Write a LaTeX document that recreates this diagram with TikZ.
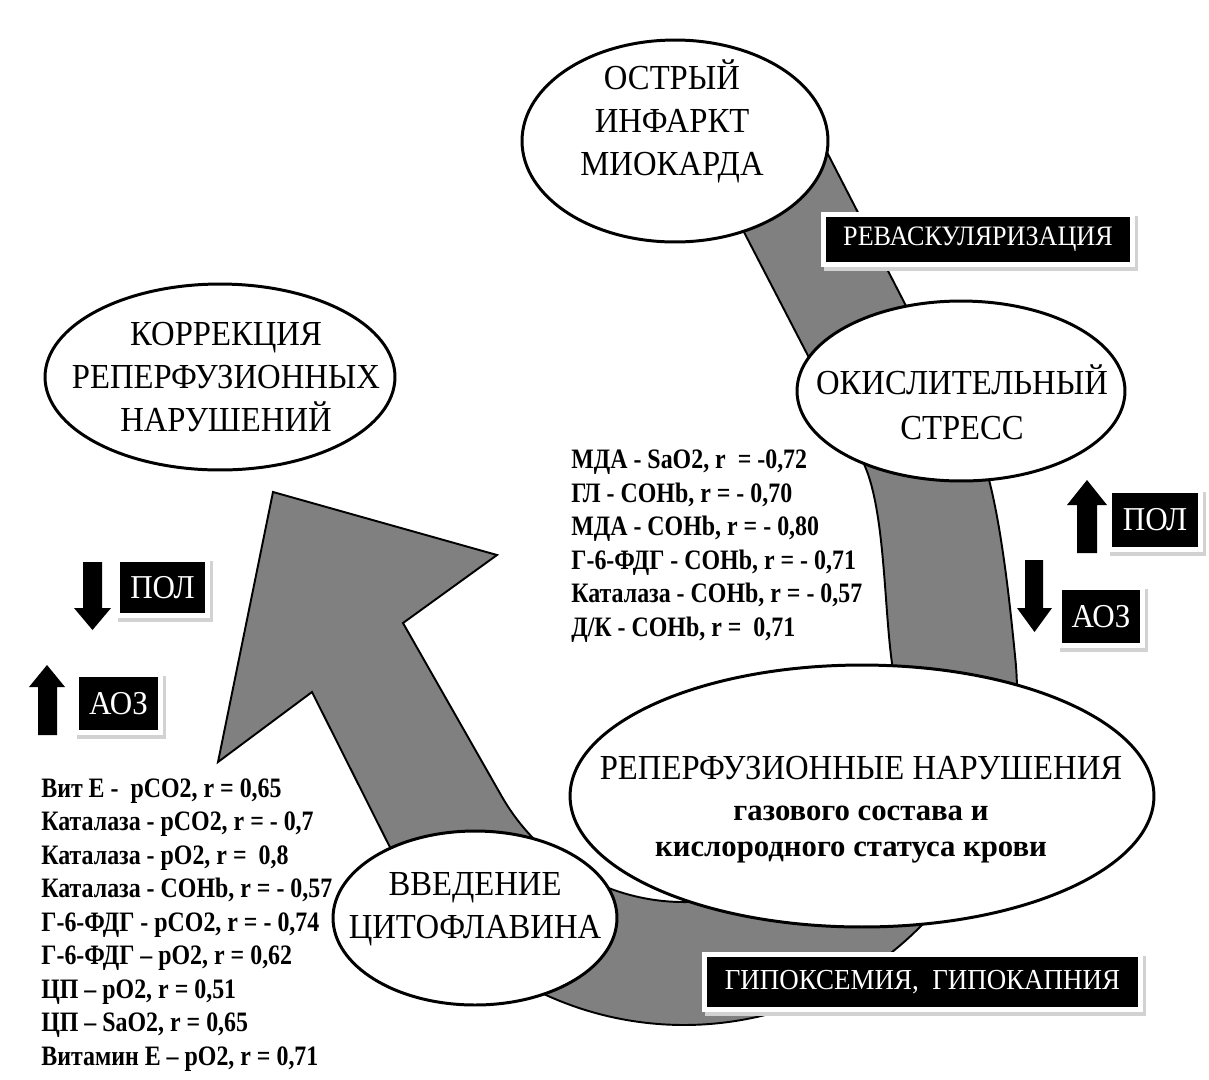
\documentclass[tikz,border=0pt]{standalone}
\usepackage{fontspec}
\setmainfont{Liberation Serif}
\newfontfamily\ellf[FakeStretch=0.93]{Liberation Serif}
\newfontfamily\corf[FakeStretch=0.85]{Liberation Serif}
\usetikzlibrary{shapes.geometric}
\pgfdeclarelayer{back}
\pgfdeclarelayer{mid}
\pgfsetlayers{back,mid,main}
\newcommand\lblback[1]{%
  \begin{pgfonlayer}{mid}
    \fill[gray!35] ([shift={(-2,-1)}]#1.north west) rectangle ([shift={(8,9)}]#1.south east);
    \fill[white] ([shift={(-5,-5)}]#1.north west) rectangle ([shift={(5,5)}]#1.south east);
  \end{pgfonlayer}}
\tikzset{
  band/.style={fill=gray, draw=black, line width=1.1pt, line join=miter},
  ell/.style={ellipse, draw=black, fill=white, line width=1.7pt, inner sep=0pt},
  etxt/.style={align=center, font=\ellf\fontsize{20}{24.4}\selectfont, inner sep=0pt},
  cor/.style={align=left, anchor=west, inner sep=0pt, font=\corf\bfseries\fontsize{16}{19.05}\selectfont},
  lbl/.style={fill=black, text=white, inner sep=0pt, outer sep=0pt, font=\ellf\fontsize{16}{16}\selectfont},
  blk/.style={fill=black}
}
\begin{document}
\begin{tikzpicture}[x=0.02cm, y=-0.02cm]
\useasboundingbox (0,0) rectangle (1209,1079);

\begin{pgfonlayer}{back}
\fill[white] (0,0) rectangle (1209,1079);
% curved band with arrow head
\filldraw[band] (797,94) -- (975,440)
  .. controls (998,484) and (1009.5,600) .. (1015.4,659.5)
  arc[start angle=-5.6, end angle=150, radius=333]
  -- (312,692) -- (218,762) -- (273,492) -- (497,555) -- (403,623)
  -- (502.1,797)
  arc[start angle=150, end angle=-8, radius=210]
  .. controls (883.7,603.6) and (885,504) .. (862,460)
  -- (717,180) -- cycle;
\node[ell, minimum width=6.12cm, minimum height=4.04cm] (top) at (675,141) {};
\node[ell, minimum width=6.56cm, minimum height=3.6cm] (ox) at (961,391) {};
\node[ell, minimum width=11.68cm, minimum height=5.24cm] (big) at (862,796) {};
\node[ell, minimum width=5.68cm, minimum height=3.48cm] (vv) at (475,918) {};
\node[ell, minimum width=7.0cm, minimum height=3.72cm] (corr) at (220,377) {};
\end{pgfonlayer}

% ellipse texts
\node[etxt] (topt) at (672,121) {ОСТРЫЙ\\ИНФАРКТ\\МИОКАРДА};
\node[etxt] (corrt) at (226,377) {КОРРЕКЦИЯ\\РЕПЕРФУЗИОННЫХ\\НАРУШЕНИЙ};
\node[etxt, font=\ellf\fontsize{20}{25.5}\selectfont] (oxt) at (962,402) {ОКИСЛИТЕЛЬНЫЙ\\СТРЕСС};
\node[etxt] (bigt1) at (861,768) {РЕПЕРФУЗИОННЫЕ НАРУШЕНИЯ};
\node[etxt, font=\bfseries\fontsize{17.5}{22}\selectfont] (bigt2) at (861,813) {газового состава и};
\node[etxt, font=\bfseries\fontsize{17.5}{22}\selectfont] (bigt3) at (851,853) {кислородного статуса крови};
\node[etxt] (vvt) at (475,909) {ВВЕДЕНИЕ\\ЦИТОФЛАВИНА};

% correlation lists
\node[cor] (listr) at (571,546) {МДА - SaO2, r \ = -0,72\\ГЛ - СОНb, r = - 0,70\\МДА - СОНb, r = - 0,80\\Г-6-ФДГ - СОНb, r = - 0,71\\Каталаза - СОНb, r = - 0,57\\Д/К - СОНb, r = \ 0,71};
\node[cor] (listl) at (41,925) {Вит Е - \ pCO2, r = 0,65\\Каталаза - pCO2, r = - 0,7\\Каталаза - pO2, r = \ 0,8\\Каталаза - СОНb, r = - 0,57\\Г-6-ФДГ - pCO2, r = - 0,74\\Г-6-ФДГ – pO2, r = 0,62\\ЦП – pO2, r = 0,51\\ЦП – SaO2, r = 0,65\\Витамин Е – pO2, r = 0,71};

% black labels
\node[lbl, minimum width=6.08cm, minimum height=0.9cm] (rev) at (978,239.5) {РЕВАСКУЛЯРИЗАЦИЯ};
\lblback{rev}
\node[lbl, minimum width=8.62cm, minimum height=1.0cm, font=\ellf\fontsize{16.5}{16.5}\selectfont] (gip) at (922.5,982) {ГИПОКСЕМИЯ, \ ГИПОКАПНИЯ};
\lblback{gip}
\node[lbl, minimum width=1.72cm, minimum height=1.08cm, font=\ellf\fontsize{19}{19}\selectfont] (polr) at (1155,520) {ПОЛ};
\lblback{polr}
\node[lbl, minimum width=1.56cm, minimum height=1.06cm, font=\ellf\fontsize{19}{19}\selectfont] (aozr) at (1101,616.5) {АОЗ};
\lblback{aozr}
\node[lbl, minimum width=1.7cm, minimum height=1.02cm, font=\ellf\fontsize{19}{19}\selectfont] (poll) at (162.5,587.5) {ПОЛ};
\lblback{poll}
\node[lbl, minimum width=1.58cm, minimum height=1.06cm, font=\ellf\fontsize{19}{19}\selectfont] (aozl) at (118.5,703.5) {АОЗ};
\lblback{aozl}

% block arrows
\fill[blk] (1077,553) -- (1077,505) -- (1067,505) -- (1087,480) -- (1107,505) -- (1097,505) -- (1097,553) -- cycle;
\fill[blk] (1025,560) -- (1043,560) -- (1043,608) -- (1052,608) -- (1034.5,632) -- (1017,608) -- (1025,608) -- cycle;
\fill[blk] (83,562) -- (102,562) -- (102,608) -- (111,608) -- (92.5,630) -- (74,608) -- (83,608) -- cycle;
\fill[blk] (38,735) -- (38,687) -- (29,687) -- (47,665) -- (65,687) -- (57,687) -- (57,735) -- cycle;
\end{tikzpicture}
\end{document}
